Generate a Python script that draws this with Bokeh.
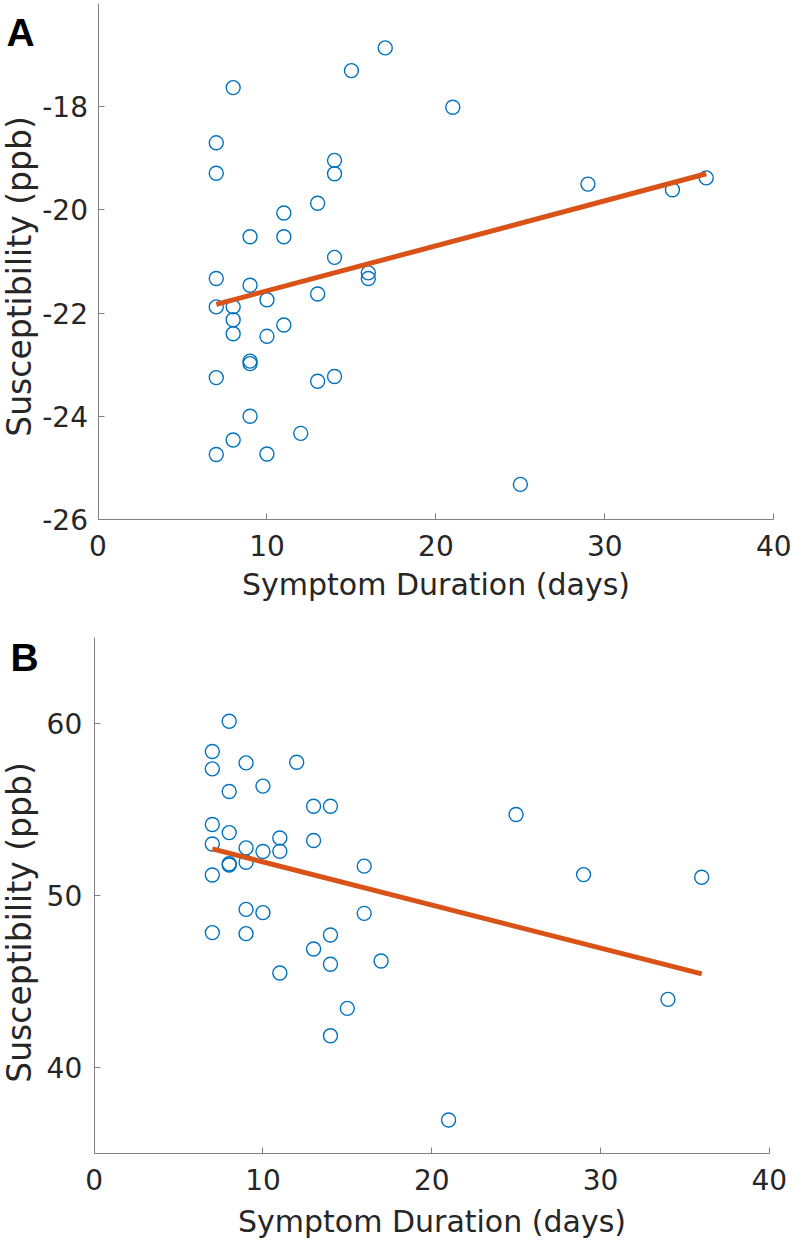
import math
from bokeh.plotting import figure
from bokeh.layouts import column
from bokeh.models import FixedTicker, Label
from bokeh.embed import file_html
from bokeh.resources import INLINE

# ---------------- data ----------------
days_a = [7, 7, 7, 7, 7, 7,
          8, 8, 8, 8, 8,
          9, 9, 9, 9, 9,
          10, 10, 10,
          11, 11, 11,
          12,
          13, 13, 13,
          14, 14, 14, 14,
          15,
          16, 16,
          17, 21, 25, 29, 34, 36]
susc_a = [-18.70, -19.29, -21.33, -21.88, -23.25, -24.74,
          -17.63, -21.88, -22.13, -22.40, -24.46,
          -20.52, -21.46, -22.93, -22.98, -24.00,
          -21.74, -22.45, -24.73,
          -20.06, -20.52, -22.23,
          -24.33,
          -19.87, -21.63, -23.32,
          -19.04, -19.30, -20.92, -23.23,
          -17.30,
          -21.22, -21.33,
          -16.86, -18.01, -25.32, -19.50, -19.61, -19.38]

days_b = [7, 7, 7, 7, 7, 7,
          8, 8, 8, 8, 8,
          9, 9, 9, 9, 9,
          10, 10, 10,
          11, 11, 11,
          12,
          13, 13, 13,
          14, 14, 14, 14,
          15,
          16, 16,
          17, 21, 25, 29, 34, 36]
susc_b = [58.37, 57.36, 54.13, 53.00, 51.20, 47.85,
          60.13, 56.05, 53.66, 51.85, 51.78,
          57.71, 52.77, 51.94, 49.20, 47.79,
          56.36, 52.56, 49.01,
          53.35, 52.58, 45.50,
          57.75,
          55.19, 53.20, 46.90,
          55.19, 47.71, 46.01, 41.86,
          43.45,
          51.71, 48.97,
          46.20, 36.96, 54.71, 51.22, 43.97, 51.07]

fit_days = [7, 36]
fit_a = [-21.83, -19.30]
fit_b = [52.71, 45.45]

x_ticks = [0, 10, 20, 30, 40]
y_ticks_a = [-26, -24, -22, -20, -18]
y_ticks_b = [40, 50, 60]
x_limits = (0, 40)
y_limits_a = (-26, -16)
y_limits_b = (35, 65)
x_title = "Symptom Duration (days)"
y_title = "Susceptibility (ppb)"
panel_letters = ["A", "B"]

# ---------------- styling ----------------
BLUE = "#0072BD"
ORANGE = "#D95319"
AXIS = "#808080"
TEXT = "#262626"
FONT = "DejaVu Sans"
W = 792


def make_panel(days, susc, fit, yticks, ylim, fig_top, fig_h,
               px_x0, px_x40, py_ylo, py_yhi,
               ylab_standoff, xlab_standoff, letter, letter_px, ytitle_px):
    # pixel geometry -> data ranges (frame fills the whole canvas)
    sx = (px_x40 - px_x0) / (x_limits[1] - x_limits[0])
    x_start = x_limits[0] - px_x0 / sx
    x_end = x_limits[1] + (W - px_x40) / sx
    sy = (py_ylo - py_yhi) / (ylim[1] - ylim[0])
    y_end = ylim[0] + (py_ylo - fig_top) / sy
    y_start = ylim[0] - (fig_top + fig_h - py_ylo) / sy

    def to_data(px, py):
        return x_start + px / sx, y_end - (py - fig_top) / sy

    p = figure(width=W, height=fig_h, x_range=(x_start, x_end),
               y_range=(y_start, y_end), output_backend="svg",
               toolbar_location=None, min_border=0,
               min_border_left=0, min_border_right=0,
               min_border_top=0, min_border_bottom=0)
    p.title.visible = False
    p.outline_line_color = None
    p.grid.visible = False
    p.background_fill_color = "white"
    p.border_fill_color = "white"

    p.scatter(days, susc, marker="circle", size=14, fill_color=None,
              line_color=BLUE, line_width=1.4)
    p.line(fit_days, fit, line_color=ORANGE, line_width=5)

    for ax in (p.xaxis[0], p.yaxis[0]):
        ax.axis_line_color = AXIS
        ax.axis_line_width = 1
        ax.major_tick_line_color = AXIS
        ax.major_tick_line_width = 1
        ax.major_tick_in = 6
        ax.major_tick_out = 0
        ax.minor_tick_line_color = None
        ax.major_label_text_font = FONT
        ax.major_label_text_font_size = "28px"
        ax.major_label_text_color = TEXT

    xa = p.xaxis[0]
    xa.fixed_location = ylim[0]
    xa.bounds = x_limits
    xa.ticker = FixedTicker(ticks=x_ticks)
    xa.major_label_overrides = {t: str(t) for t in x_ticks}
    xa.major_label_standoff = 15
    xa.axis_label = x_title
    xa.axis_label_text_font = FONT
    xa.axis_label_text_font_size = "30px"
    xa.axis_label_text_font_style = "normal"
    xa.axis_label_text_color = TEXT
    xa.axis_label_standoff = xlab_standoff

    ya = p.yaxis[0]
    ya.fixed_location = x_limits[0]
    ya.bounds = ylim
    ya.ticker = FixedTicker(ticks=yticks)
    ya.major_label_overrides = {t: str(t) for t in yticks}
    ya.major_label_standoff = ylab_standoff

    lx, ly = to_data(*ytitle_px)
    p.add_layout(Label(x=lx, y=ly, text=y_title, angle=math.pi / 2,
                       text_align="center", text_baseline="alphabetic",
                       text_font=FONT, text_font_size="33px", text_color=TEXT))
    bx, by = to_data(*letter_px)
    p.add_layout(Label(x=bx, y=by, text=letter, text_align="left",
                       text_baseline="alphabetic", text_font="Liberation Sans",
                       text_font_style="bold", text_font_size="39px",
                       text_color="black"))
    return p


pA = make_panel(days_a, susc_a, fit_a, y_ticks_a, y_limits_a, 0, 623,
                97.5, 773.3, 519.0, 3.0,
                10, 8, panel_letters[0], (6, 32), (19, 276))
pB = make_panel(days_b, susc_b, fit_b, y_ticks_b, y_limits_b, 623, 623,
                93.7, 768.7, 1153.3, 636.9,
                12, 11, panel_letters[1], (10, 657), (19, 922))

layout = column(pA, pB, spacing=0)
open("out.html", "w").write(file_html(layout, INLINE))
